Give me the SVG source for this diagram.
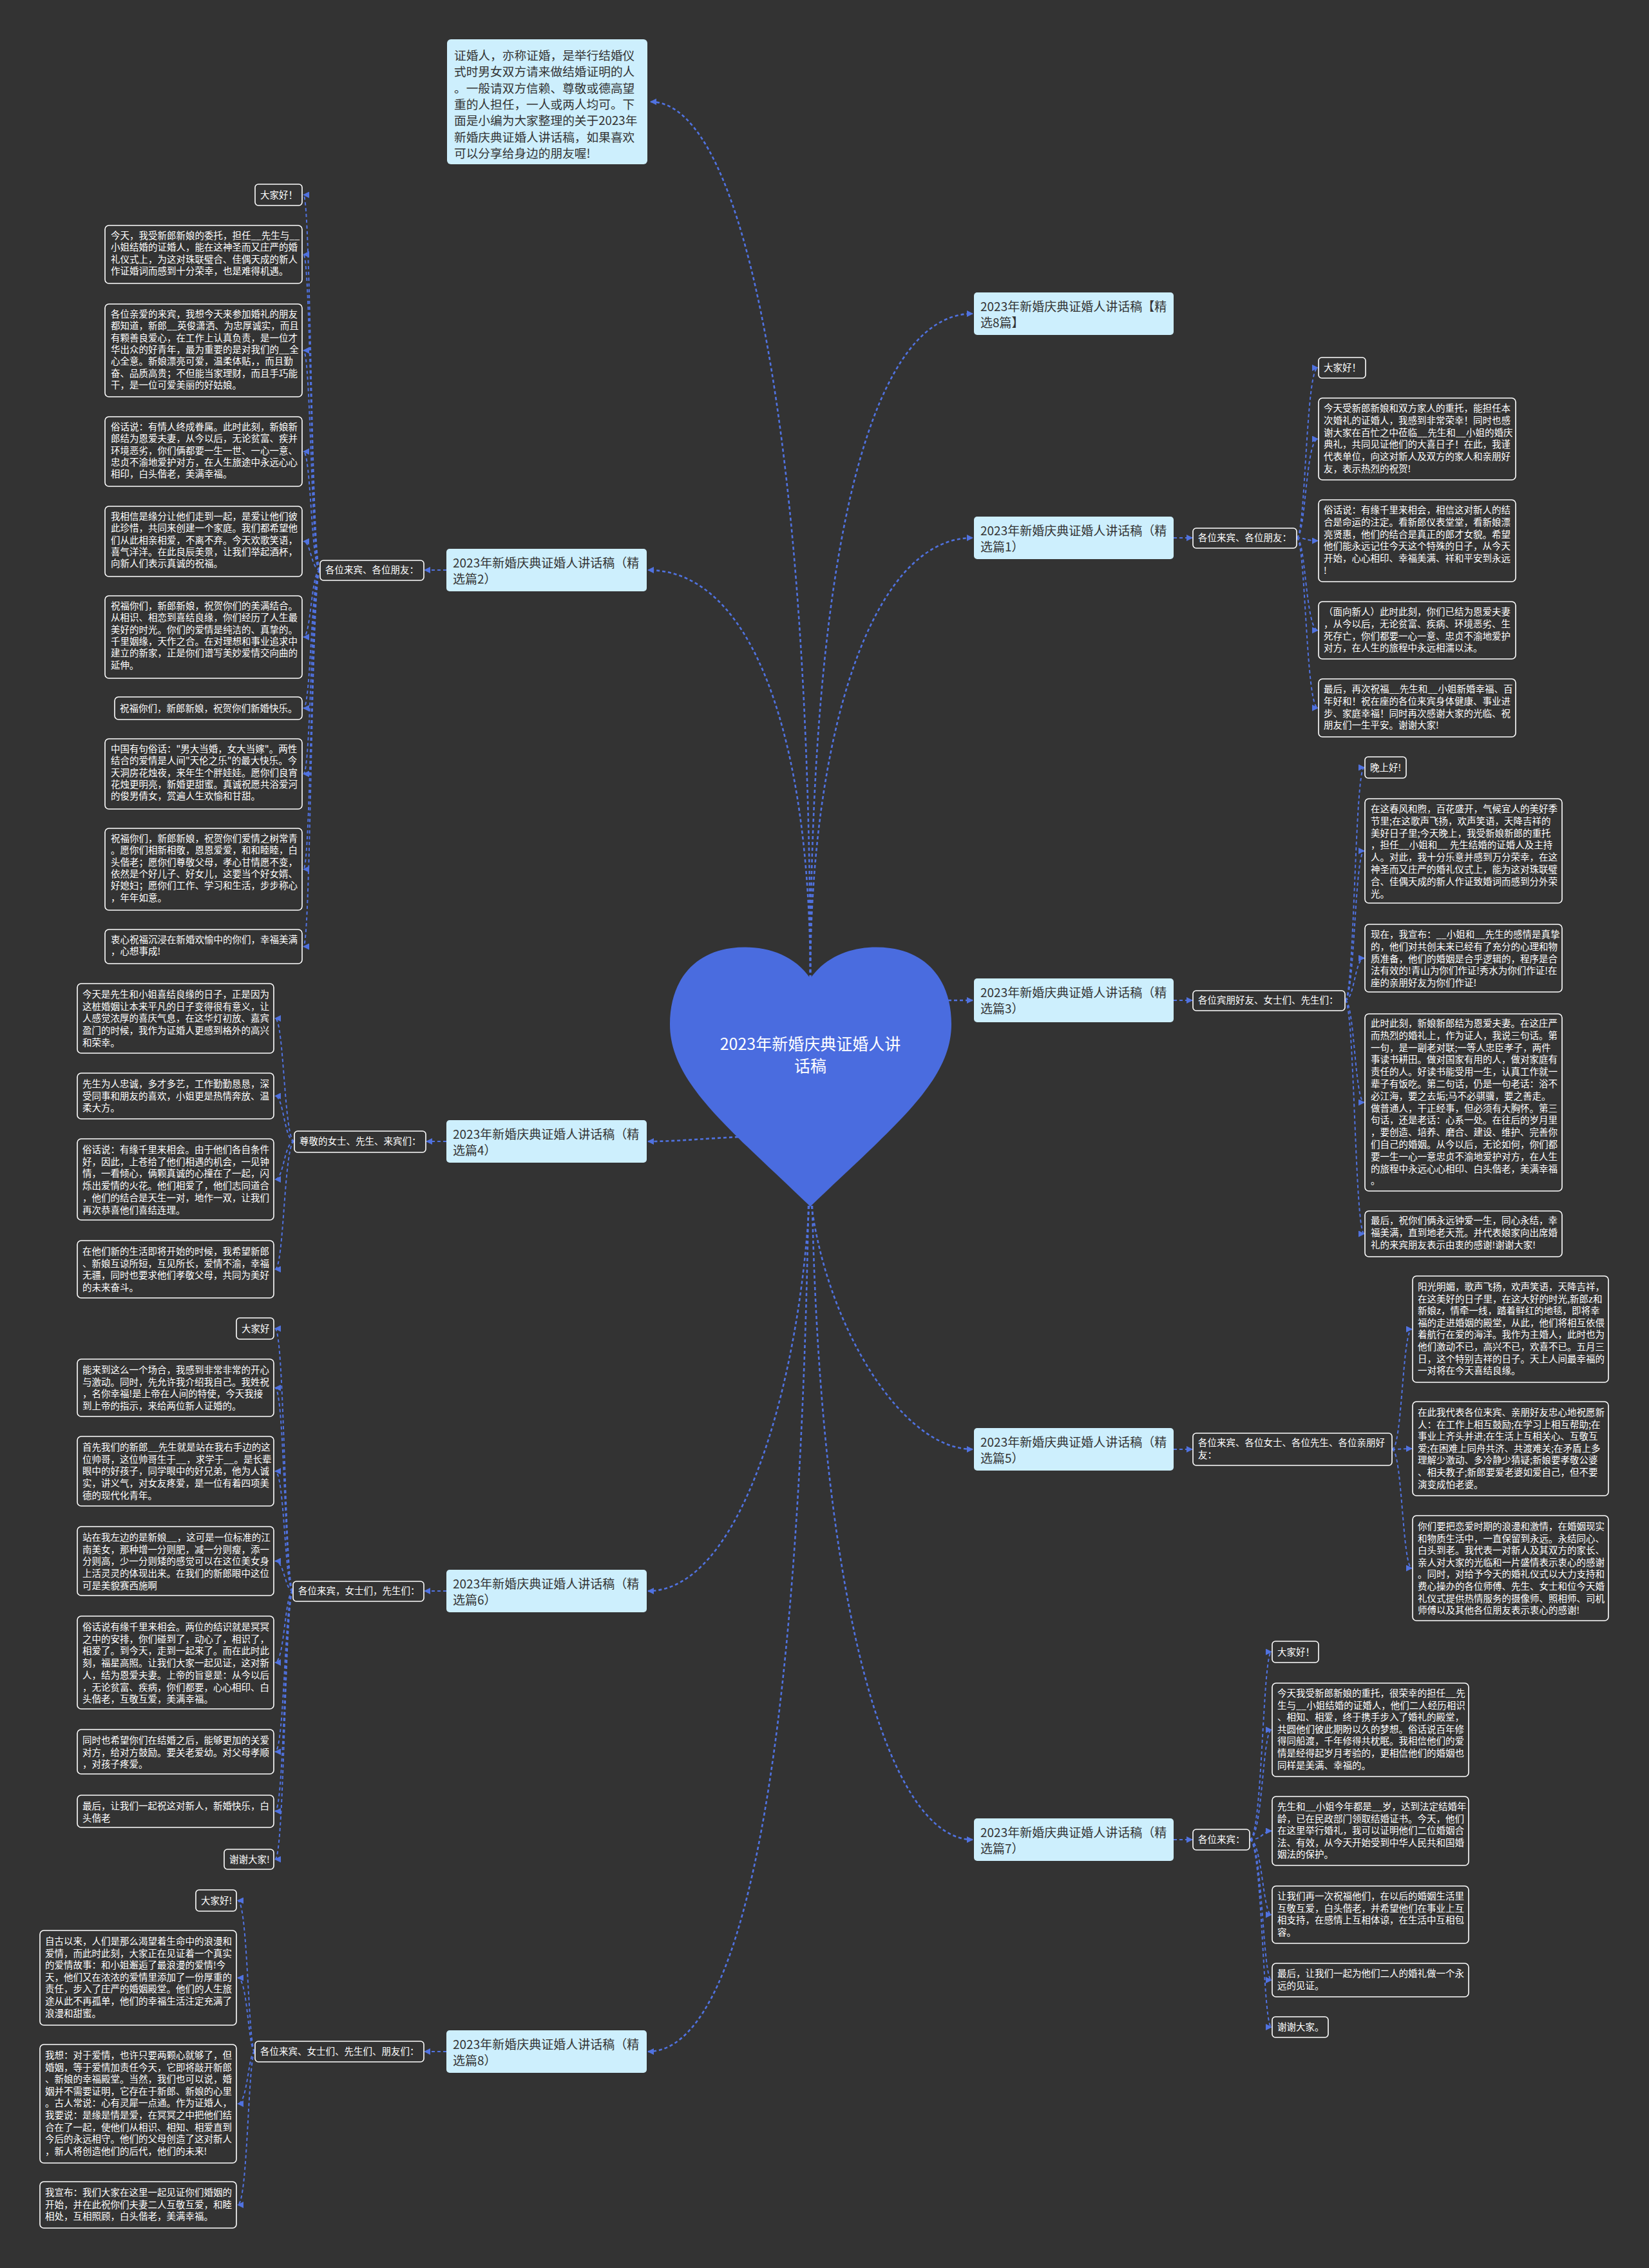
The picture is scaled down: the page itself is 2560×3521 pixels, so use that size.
<svg xmlns="http://www.w3.org/2000/svg" width="2560" height="3521" viewBox="0 0 2560 3521">
<defs>
<style>
.t{font-family:"Noto Sans CJK SC","Noto Sans",sans-serif;font-size:14.5px;fill:#ffffff}
.bt{font-family:"Noto Sans CJK SC","Noto Sans",sans-serif;font-size:19px;fill:#333333}
.it{font-family:"Noto Sans CJK SC","Noto Sans",sans-serif;font-size:18.7px;fill:#333333}
.rt{font-family:"Noto Sans CJK SC","Noto Sans",sans-serif;font-size:25px;fill:#ffffff}
.lf{fill:#333333;stroke:#ffffff;stroke-width:1.6}
.br{fill:#cdeffd}
.c{fill:none;stroke:#5072e0;stroke-width:2;stroke-dasharray:5 4}
.cm{fill:none;stroke:#5072e0;stroke-width:2.6;stroke-dasharray:5 4}
</style>
<marker id="a" viewBox="0 0 10 10" refX="9" refY="5" markerWidth="10" markerHeight="10" markerUnits="userSpaceOnUse" orient="auto"><path d="M0,0 L10,5 L0,10 z" fill="#5072e0"/></marker>
</defs>
<rect x="0" y="0" width="2560" height="3521" fill="#333333"/>

<g id="connectors">
<path class="cm" marker-end="url(#a)" d="M1258,1600 L1258,1519 C1258,700 1160,158 1010,158"/>
<path class="cm" marker-end="url(#a)" d="M1258,1600 L1258,1519 C1258,900 1340,487 1510,487"/>
<path class="cm" marker-end="url(#a)" d="M1258,1600 L1258,1519 C1258,1150 1350,835 1510,835"/>
<path class="cm" marker-end="url(#a)" d="M1258,1600 L1258,1519 C1258,1150 1170,885 1006,885"/>
<path class="cm" marker-end="url(#a)" d="M1400,1553 L1510,1553"/>
<path class="cm" marker-end="url(#a)" d="M1200,1763 C1100,1766 1060,1772 1006,1772"/>
<path class="cm" marker-end="url(#a)" d="M1258,1800 L1260,1873 C1285,2060 1400,2250 1510,2250"/>
<path class="cm" marker-end="url(#a)" d="M1258,1800 L1256,1873 C1240,2150 1150,2470 1006,2470"/>
<path class="cm" marker-end="url(#a)" d="M1258,1800 L1261,1873 C1275,2500 1380,2856 1510,2856"/>
<path class="cm" marker-end="url(#a)" d="M1258,1800 L1255,1873 C1240,2750 1150,3185 1006,3185"/>

<path class="c" marker-end="url(#a)" d="M1822,835 L1851,835"/>
<path class="c" marker-end="url(#a)" d="M693,885 L659,885"/>
<path class="c" marker-end="url(#a)" d="M1822,1553 L1851,1553"/>
<path class="c" marker-end="url(#a)" d="M693,1772 L662,1772"/>
<path class="c" marker-end="url(#a)" d="M1822,2250 L1851,2250"/>
<path class="c" marker-end="url(#a)" d="M693,2470 L659,2470"/>
<path class="c" marker-end="url(#a)" d="M1822,2856 L1851,2856"/>
<path class="c" marker-end="url(#a)" d="M693,3185 L659,3185"/>

<path class="c" marker-end="url(#a)" d="M497,885 C483,885 483,302.5 471,302.5"/>
<path class="c" marker-end="url(#a)" d="M497,885 C483,885 483,395 471,395"/>
<path class="c" marker-end="url(#a)" d="M497,885 C483,885 483,544 471,544"/>
<path class="c" marker-end="url(#a)" d="M497,885 C483,885 483,701 471,701"/>
<path class="c" marker-end="url(#a)" d="M497,885 C483,885 483,840.5 471,840.5"/>
<path class="c" marker-end="url(#a)" d="M497,885 C483,885 483,989 471,989"/>
<path class="c" marker-end="url(#a)" d="M497,885 C483,885 483,1099.5 471,1099.5"/>
<path class="c" marker-end="url(#a)" d="M497,885 C483,885 483,1201.5 471,1201.5"/>
<path class="c" marker-end="url(#a)" d="M497,885 C483,885 483,1349.5 471,1349.5"/>
<path class="c" marker-end="url(#a)" d="M497,885 C483,885 483,1469.5 471,1469.5"/>

<path class="c" marker-end="url(#a)" d="M2013,835 C2027,835 2027,571 2046,571"/>
<path class="c" marker-end="url(#a)" d="M2013,835 C2027,835 2027,681.5 2046,681.5"/>
<path class="c" marker-end="url(#a)" d="M2013,835 C2027,835 2027,839.5 2046,839.5"/>
<path class="c" marker-end="url(#a)" d="M2013,835 C2027,835 2027,978.5 2046,978.5"/>
<path class="c" marker-end="url(#a)" d="M2013,835 C2027,835 2027,1099 2046,1099"/>

<path class="c" marker-end="url(#a)" d="M2088,1553 C2103,1553 2103,1191.5 2118,1191.5"/>
<path class="c" marker-end="url(#a)" d="M2088,1553 C2103,1553 2103,1321 2118,1321"/>
<path class="c" marker-end="url(#a)" d="M2088,1553 C2103,1553 2103,1487.5 2118,1487.5"/>
<path class="c" marker-end="url(#a)" d="M2088,1553 C2103,1553 2103,1711.5 2118,1711.5"/>
<path class="c" marker-end="url(#a)" d="M2088,1553 C2103,1553 2103,1915.5 2118,1915.5"/>

<path class="c" marker-end="url(#a)" d="M457,1772 C441,1772 441,1581 427,1581"/>
<path class="c" marker-end="url(#a)" d="M457,1772 C441,1772 441,1701.5 427,1701.5"/>
<path class="c" marker-end="url(#a)" d="M457,1772 C441,1772 441,1831 427,1831"/>
<path class="c" marker-end="url(#a)" d="M457,1772 C441,1772 441,1970.5 427,1970.5"/>

<path class="c" marker-end="url(#a)" d="M2161,2250 C2177,2250 2177,2063.5 2192,2063.5"/>
<path class="c" marker-end="url(#a)" d="M2161,2250 C2177,2250 2177,2249 2192,2249"/>
<path class="c" marker-end="url(#a)" d="M2161,2250 C2177,2250 2177,2434.5 2192,2434.5"/>

<path class="c" marker-end="url(#a)" d="M455,2470 C442,2470 442,2062.5 427,2062.5"/>
<path class="c" marker-end="url(#a)" d="M455,2470 C442,2470 442,2154.5 427,2154.5"/>
<path class="c" marker-end="url(#a)" d="M455,2470 C442,2470 442,2284 427,2284"/>
<path class="c" marker-end="url(#a)" d="M455,2470 C442,2470 442,2423.5 427,2423.5"/>
<path class="c" marker-end="url(#a)" d="M455,2470 C442,2470 442,2581 427,2581"/>
<path class="c" marker-end="url(#a)" d="M455,2470 C442,2470 442,2719.5 427,2719.5"/>
<path class="c" marker-end="url(#a)" d="M455,2470 C442,2470 442,2812 427,2812"/>
<path class="c" marker-end="url(#a)" d="M455,2470 C442,2470 442,2886.5 427,2886.5"/>

<path class="c" marker-end="url(#a)" d="M1940,2856 C1960,2856 1960,2564.5 1974,2564.5"/>
<path class="c" marker-end="url(#a)" d="M1940,2856 C1960,2856 1960,2685.5 1974,2685.5"/>
<path class="c" marker-end="url(#a)" d="M1940,2856 C1960,2856 1960,2842.5 1974,2842.5"/>
<path class="c" marker-end="url(#a)" d="M1940,2856 C1960,2856 1960,2972.5 1974,2972.5"/>
<path class="c" marker-end="url(#a)" d="M1940,2856 C1960,2856 1960,3074 1974,3074"/>
<path class="c" marker-end="url(#a)" d="M1940,2856 C1960,2856 1960,3147 1974,3147"/>

<path class="c" marker-end="url(#a)" d="M396,3185 C385,3185 385,2950.5 369,2950.5"/>
<path class="c" marker-end="url(#a)" d="M396,3185 C385,3185 385,3070.5 369,3070.5"/>
<path class="c" marker-end="url(#a)" d="M396,3185 C385,3185 385,3266 369,3266"/>
<path class="c" marker-end="url(#a)" d="M396,3185 C385,3185 385,3423 369,3423"/>
</g>

<g id="root">
<path d="M1258,1519 C1230,1478 1180,1466 1135,1472 C1075,1480 1040,1525 1040,1590 C1040,1680 1130,1750 1258,1873 C1386,1750 1477,1680 1477,1590 C1477,1525 1442,1480 1382,1472 C1337,1466 1287,1478 1258,1519 Z" fill="#4a6cdf"/>
<text class="rt" text-anchor="middle"><tspan x="1258" y="1630">2023年新婚庆典证婚人讲</tspan><tspan x="1258" y="1664">话稿</tspan></text>
</g>

<g id="intro">
<rect class="br" x="694" y="61" width="311" height="194" rx="6"/>
<text class="it"><tspan x="705" y="93">证婚人，亦称证婚，是举行结婚仪</tspan><tspan x="705" dy="25.3">式时男女双方请来做结婚证明的人</tspan><tspan x="705" dy="25.3">。一般请双方信赖、尊敬或德高望</tspan><tspan x="705" dy="25.3">重的人担任，一人或两人均可。下</tspan><tspan x="705" dy="25.3">面是小编为大家整理的关于2023年</tspan><tspan x="705" dy="25.3">新婚庆典证婚人讲话稿，如果喜欢</tspan><tspan x="705" dy="25.3">可以分享给身边的朋友喔!</tspan></text>
</g>

<g id="b8top">
<rect class="br" x="1512" y="454" width="310" height="66" rx="5"/>
<text class="bt"><tspan x="1522" y="483">2023年新婚庆典证婚人讲话稿【精</tspan><tspan x="1522" dy="25">选8篇】</tspan></text>
</g>

<g id="b1">
<rect class="br" x="1512" y="802" width="310" height="66" rx="5"/>
<text class="bt"><tspan x="1522" y="831">2023年新婚庆典证婚人讲话稿（精</tspan><tspan x="1522" dy="25">选篇1）</tspan></text>
</g>
<g id="b1-label"><rect class="lf" x="1852" y="820" width="161" height="31" rx="5"/><text class="t" x="1860" y="840">各位来宾、各位朋友：</text></g>
<g id="b1-l1"><rect class="lf" x="2047" y="555" width="73" height="32" rx="5"/><text class="t" x="2055" y="576">大家好！</text></g>
<g id="b1-l2"><rect class="lf" x="2047" y="618" width="306" height="127" rx="6"/><text class="t"><tspan x="2055" y="639">今天受新郎新娘和双方家人的重托，能担任本</tspan><tspan x="2055" dy="18.75">次婚礼的证婚人，我感到非常荣幸！同时也感</tspan><tspan x="2055" dy="18.75">谢大家在百忙之中莅临__先生和__小姐的婚庆</tspan><tspan x="2055" dy="18.75">典礼，共同见证他们的大喜日子！在此，我谨</tspan><tspan x="2055" dy="18.75">代表单位，向这对新人及双方的家人和亲朋好</tspan><tspan x="2055" dy="18.75">友，表示热烈的祝贺!</tspan></text></g>
<g id="b1-l3"><rect class="lf" x="2047" y="776" width="306" height="127" rx="6"/><text class="t"><tspan x="2055" y="797">俗话说：有缘千里来相会，相信这对新人的结</tspan><tspan x="2055" dy="18.75">合是命运的注定。看新郎仪表堂堂，看新娘漂</tspan><tspan x="2055" dy="18.75">亮贤惠，他们的结合是真正的郎才女貌。希望</tspan><tspan x="2055" dy="18.75">他们能永远记住今天这个特殊的日子，从今天</tspan><tspan x="2055" dy="18.75">开始，心心相印、幸福美满、祥和平安到永远</tspan><tspan x="2055" dy="18.75">!</tspan></text></g>
<g id="b1-l4"><rect class="lf" x="2047" y="934" width="306" height="89" rx="6"/><text class="t"><tspan x="2055" y="955">（面向新人）此时此刻，你们已结为恩爱夫妻</tspan><tspan x="2055" dy="18.75">，从今以后，无论贫富、疾病、环境恶劣、生</tspan><tspan x="2055" dy="18.75">死存亡，你们都要一心一意、忠贞不渝地爱护</tspan><tspan x="2055" dy="18.75">对方，在人生的旅程中永远相濡以沫。</tspan></text></g>
<g id="b1-l5"><rect class="lf" x="2047" y="1054" width="306" height="90" rx="6"/><text class="t"><tspan x="2055" y="1075">最后，再次祝福__先生和__小姐新婚幸福、百</tspan><tspan x="2055" dy="18.75">年好和！祝在座的各位来宾身体健康、事业进</tspan><tspan x="2055" dy="18.75">步、家庭幸福！同时再次感谢大家的光临、祝</tspan><tspan x="2055" dy="18.75">朋友们一生平安。谢谢大家!</tspan></text></g>

<g id="b2">
<rect class="br" x="693" y="852" width="311" height="66" rx="5"/>
<text class="bt"><tspan x="703" y="881">2023年新婚庆典证婚人讲话稿（精</tspan><tspan x="703" dy="25">选篇2）</tspan></text>
</g>
<g id="b2-label"><rect class="lf" x="497" y="870" width="161" height="31" rx="5"/><text class="t" x="505" y="890">各位来宾、各位朋友：</text></g>
<g id="b2-l1"><rect class="lf" x="396" y="286" width="73" height="33" rx="5"/><text class="t" x="404" y="308">大家好！</text></g>
<g id="b2-l2"><rect class="lf" x="163" y="350" width="306" height="90" rx="6"/><text class="t"><tspan x="172" y="371">今天，我受新郎新娘的委托，担任__先生与__</tspan><tspan x="172" dy="18.3">小姐结婚的证婚人，能在这神圣而又庄严的婚</tspan><tspan x="172" dy="18.3">礼仪式上，为这对珠联璧合、佳偶天成的新人</tspan><tspan x="172" dy="18.3">作证婚词而感到十分荣幸，也是难得机遇。</tspan></text></g>
<g id="b2-l3"><rect class="lf" x="163" y="472" width="306" height="144" rx="6"/><text class="t"><tspan x="172" y="493">各位亲爱的来宾，我想今天来参加婚礼的朋友</tspan><tspan x="172" dy="18.3">都知道，新郎__英俊潇洒、为忠厚诚实，而且</tspan><tspan x="172" dy="18.3">有颗善良爱心，在工作上认真负责，是一位才</tspan><tspan x="172" dy="18.3">华出众的好青年，最为重要的是对我们的__全</tspan><tspan x="172" dy="18.3">心全意。新娘漂亮可爱，温柔体贴，，而且勤</tspan><tspan x="172" dy="18.3">奋、品质高贵；不但能当家理财，而且手巧能</tspan><tspan x="172" dy="18.3">干，是一位可爱美丽的好姑娘。</tspan></text></g>
<g id="b2-l4"><rect class="lf" x="163" y="647" width="306" height="108" rx="6"/><text class="t"><tspan x="172" y="668">俗话说：有情人终成眷属。此时此刻，新娘新</tspan><tspan x="172" dy="18.3">郎结为恩爱夫妻，从今以后，无论贫富、疾并</tspan><tspan x="172" dy="18.3">环境恶劣，你们俩都要一生一世、一心一意、</tspan><tspan x="172" dy="18.3">忠贞不渝地爱护对方，在人生旅途中永远心心</tspan><tspan x="172" dy="18.3">相印，白头偕老，美满幸福。</tspan></text></g>
<g id="b2-l5"><rect class="lf" x="163" y="786" width="306" height="109" rx="6"/><text class="t"><tspan x="172" y="807">我相信是缘分让他们走到一起，是爱让他们彼</tspan><tspan x="172" dy="18.3">此珍惜，共同来创建一个家庭。我们都希望他</tspan><tspan x="172" dy="18.3">们从此相亲相爱，不离不弃。今天欢歌笑语，</tspan><tspan x="172" dy="18.3">喜气洋洋。在此良辰美景，让我们举起酒杯，</tspan><tspan x="172" dy="18.3">向新人们表示真诚的祝福。</tspan></text></g>
<g id="b2-l6"><rect class="lf" x="163" y="925" width="306" height="128" rx="6"/><text class="t"><tspan x="172" y="946">祝福你们，新郎新娘，祝贺你们的美满结合。</tspan><tspan x="172" dy="18.3">从相识、相恋到喜结良缘，你们经历了人生最</tspan><tspan x="172" dy="18.3">美好的时光。你们的爱情是纯洁的、真挚的。</tspan><tspan x="172" dy="18.3">千里姻缘，天作之合。在对理想和事业追求中</tspan><tspan x="172" dy="18.3">建立的新家，正是你们谱写美妙爱情交向曲的</tspan><tspan x="172" dy="18.3">延伸。</tspan></text></g>
<g id="b2-l7"><rect class="lf" x="178" y="1082" width="291" height="35" rx="6"/><text class="t" x="186" y="1105">祝福你们，新郎新娘，祝贺你们新婚快乐。</text></g>
<g id="b2-l8"><rect class="lf" x="163" y="1147" width="306" height="109" rx="6"/><text class="t"><tspan x="172" y="1168">中国有句俗话："男大当婚，女大当嫁"。两性</tspan><tspan x="172" dy="18.3">结合的爱情是人间"天伦之乐"的最大快乐。今</tspan><tspan x="172" dy="18.3">天洞房花烛夜，来年生个胖娃娃。愿你们良宵</tspan><tspan x="172" dy="18.3">花烛更明亮，新婚更甜蜜。真诚祝愿共浴爱河</tspan><tspan x="172" dy="18.3">的俊男倩女，赏遍人生欢愉和甘甜。</tspan></text></g>
<g id="b2-l9"><rect class="lf" x="163" y="1286" width="306" height="127" rx="6"/><text class="t"><tspan x="172" y="1307">祝福你们，新郎新娘，祝贺你们爱情之树常青</tspan><tspan x="172" dy="18.3">。愿你们相新相敬，恩恩爱爱，和和睦睦，白</tspan><tspan x="172" dy="18.3">头偕老；愿你们尊敬父母，孝心甘情愿不变，</tspan><tspan x="172" dy="18.3">依然是个好儿子、好女儿，这要当个好女婿、</tspan><tspan x="172" dy="18.3">好媳妇；愿你们工作、学习和生活，步步称心</tspan><tspan x="172" dy="18.3">，年年如意。</tspan></text></g>
<g id="b2-l10"><rect class="lf" x="163" y="1443" width="306" height="53" rx="6"/><text class="t"><tspan x="172" y="1464">衷心祝福沉浸在新婚欢愉中的你们，幸福美满</tspan><tspan x="172" dy="18.3">，心想事成!</tspan></text></g>

<g id="b3">
<rect class="br" x="1512" y="1519" width="310" height="68" rx="5"/>
<text class="bt"><tspan x="1522" y="1548">2023年新婚庆典证婚人讲话稿（精</tspan><tspan x="1522" dy="25">选篇3）</tspan></text>
</g>
<g id="b3-label"><rect class="lf" x="1852" y="1538" width="236" height="31" rx="5"/><text class="t" x="1860" y="1558">各位宾朋好友、女士们、先生们：</text></g>
<g id="b3-l1"><rect class="lf" x="2119" y="1175" width="64" height="33" rx="5"/><text class="t" x="2127" y="1197">晚上好!</text></g>
<g id="b3-l2"><rect class="lf" x="2119" y="1240" width="306" height="162" rx="6"/><text class="t"><tspan x="2128" y="1261">在这春风和煦，百花盛开，气候宜人的美好季</tspan><tspan x="2128" dy="18.8">节里;在这歌声飞扬，欢声笑语，天降吉祥的</tspan><tspan x="2128" dy="18.8">美好日子里;今天晚上，我受新娘新郎的重托</tspan><tspan x="2128" dy="18.8">，担任__小姐和__ 先生结婚的证婚人及主持</tspan><tspan x="2128" dy="18.8">人。对此，我十分乐意并感到万分荣幸，在这</tspan><tspan x="2128" dy="18.8">神圣而又庄严的婚礼仪式上，能为这对珠联璧</tspan><tspan x="2128" dy="18.8">合、佳偶天成的新人作证致婚词而感到分外荣</tspan><tspan x="2128" dy="18.8">光。</tspan></text></g>
<g id="b3-l3"><rect class="lf" x="2119" y="1435" width="306" height="105" rx="6"/><text class="t"><tspan x="2128" y="1456">现在，我宣布：__小姐和__先生的感情是真挚</tspan><tspan x="2128" dy="18.8">的，他们对共创未来已经有了充分的心理和物</tspan><tspan x="2128" dy="18.8">质准备，他们的婚姻是合乎逻辑的，程序是合</tspan><tspan x="2128" dy="18.8">法有效的!青山为你们作证!秀水为你们作证!在</tspan><tspan x="2128" dy="18.8">座的亲朋好友为你们作证!</tspan></text></g>
<g id="b3-l4"><rect class="lf" x="2119" y="1574" width="306" height="275" rx="6"/><text class="t"><tspan x="2128" y="1594">此时此刻，新娘新郎结为恩爱夫妻。在这庄严</tspan><tspan x="2128" dy="18.8">而热烈的婚礼上，作为证人，我说三句话。第</tspan><tspan x="2128" dy="18.8">一句，是一副老对联;一等人忠臣孝子，两件</tspan><tspan x="2128" dy="18.8">事读书耕田。做对国家有用的人，做对家庭有</tspan><tspan x="2128" dy="18.8">责任的人。好读书能受用一生，认真工作就一</tspan><tspan x="2128" dy="18.8">辈子有饭吃。第二句话，仍是一句老话：浴不</tspan><tspan x="2128" dy="18.8">必江海，要之去垢;马不必骐骥，要之善走。</tspan><tspan x="2128" dy="18.8">做普通人，干正经事，但必须有大胸怀。第三</tspan><tspan x="2128" dy="18.8">句话，还是老话：心系一处。在往后的岁月里</tspan><tspan x="2128" dy="18.8">，要创造、培养、磨合、建设、维护、完善你</tspan><tspan x="2128" dy="18.8">们自己的婚姻。从今以后，无论如何，你们都</tspan><tspan x="2128" dy="18.8">要一生一心一意忠贞不渝地爱护对方，在人生</tspan><tspan x="2128" dy="18.8">的旅程中永远心心相印、白头偕老，美满幸福</tspan><tspan x="2128" dy="18.8">。</tspan></text></g>
<g id="b3-l5"><rect class="lf" x="2119" y="1880" width="306" height="71" rx="6"/><text class="t"><tspan x="2128" y="1900">最后，祝你们俩永远钟爱一生，同心永结，幸</tspan><tspan x="2128" dy="18.8">福美满，直到地老天荒。并代表娘家向出席婚</tspan><tspan x="2128" dy="18.8">礼的来宾朋友表示由衷的感谢!谢谢大家!</tspan></text></g>

<g id="b4">
<rect class="br" x="693" y="1739" width="311" height="66" rx="5"/>
<text class="bt"><tspan x="703" y="1768">2023年新婚庆典证婚人讲话稿（精</tspan><tspan x="703" dy="25">选篇4）</tspan></text>
</g>
<g id="b4-label"><rect class="lf" x="457" y="1756" width="204" height="33" rx="5"/><text class="t" x="465" y="1777">尊敬的女士、先生、来宾们：</text></g>
<g id="b4-l1"><rect class="lf" x="120" y="1527" width="305" height="108" rx="6"/><text class="t"><tspan x="128" y="1549">今天是先生和小姐喜结良缘的日子，正是因为</tspan><tspan x="128" dy="18.7">这桩婚姻让本来平凡的日子变得很有意义，让</tspan><tspan x="128" dy="18.7">人感觉浓厚的喜庆气息，在这华灯初放、嘉宾</tspan><tspan x="128" dy="18.7">盈门的时候，我作为证婚人更感到格外的高兴</tspan><tspan x="128" dy="18.7">和荣幸。</tspan></text></g>
<g id="b4-l2"><rect class="lf" x="120" y="1666" width="305" height="71" rx="6"/><text class="t"><tspan x="128" y="1688">先生为人忠诚，多才多艺，工作勤勤恳恳，深</tspan><tspan x="128" dy="18.7">受同事和朋友的喜欢，小姐更是热情奔放、温</tspan><tspan x="128" dy="18.7">柔大方。</tspan></text></g>
<g id="b4-l3"><rect class="lf" x="120" y="1768" width="305" height="126" rx="6"/><text class="t"><tspan x="128" y="1790">俗话说：有缘千里来相会。由于他们各自条件</tspan><tspan x="128" dy="18.7">好，因此，上苍给了他们相遇的机会，一见钟</tspan><tspan x="128" dy="18.7">情，一看倾心，俩颗真诚的心撞在了一起，闪</tspan><tspan x="128" dy="18.7">烁出爱情的火花。他们相爱了，他们志同道合</tspan><tspan x="128" dy="18.7">，他们的结合是天生一对，地作一双，让我们</tspan><tspan x="128" dy="18.7">再次恭喜他们喜结连理。</tspan></text></g>
<g id="b4-l4"><rect class="lf" x="120" y="1926" width="305" height="89" rx="6"/><text class="t"><tspan x="128" y="1948">在他们新的生活即将开始的时候，我希望新郎</tspan><tspan x="128" dy="18.7">、新娘互谅所短，互见所长，爱情不渝，幸福</tspan><tspan x="128" dy="18.7">无疆，同时也要求他们孝敬父母，共同为美好</tspan><tspan x="128" dy="18.7">的未来奋斗。</tspan></text></g>

<g id="b5">
<rect class="br" x="1512" y="2217" width="310" height="66" rx="5"/>
<text class="bt"><tspan x="1522" y="2246">2023年新婚庆典证婚人讲话稿（精</tspan><tspan x="1522" dy="25">选篇5）</tspan></text>
</g>
<g id="b5-label"><rect class="lf" x="1852" y="2225" width="309" height="50" rx="5"/><text class="t"><tspan x="1860" y="2245">各位来宾、各位女士、各位先生、各位亲朋好</tspan><tspan x="1860" dy="18.5">友：</tspan></text></g>
<g id="b5-l1"><rect class="lf" x="2193" y="1981" width="304" height="165" rx="6"/><text class="t"><tspan x="2201" y="2003">阳光明媚，歌声飞扬，欢声笑语，天降吉祥，</tspan><tspan x="2201" dy="18.6">在这美好的日子里，在这大好的时光,新郎z和</tspan><tspan x="2201" dy="18.6">新娘z，情牵一线，踏着鲜红的地毯，即将幸</tspan><tspan x="2201" dy="18.6">福的走进婚姻的殿堂，从此，他们将相互依偎</tspan><tspan x="2201" dy="18.6">着航行在爱的海洋。我作为主婚人，此时也为</tspan><tspan x="2201" dy="18.6">他们激动不已，高兴不已，欢喜不已。五月三</tspan><tspan x="2201" dy="18.6">日，这个特别吉祥的日子。天上人间最幸福的</tspan><tspan x="2201" dy="18.6">一对将在今天喜结良缘。</tspan></text></g>
<g id="b5-l2"><rect class="lf" x="2193" y="2176" width="304" height="146" rx="6"/><text class="t"><tspan x="2201" y="2198">在此我代表各位来宾、亲朋好友忠心地祝愿新</tspan><tspan x="2201" dy="18.6">人：在工作上相互鼓励;在学习上相互帮助;在</tspan><tspan x="2201" dy="18.6">事业上齐头并进;在生活上互相关心、互敬互</tspan><tspan x="2201" dy="18.6">爱;在困难上同舟共济、共渡难关;在矛盾上多</tspan><tspan x="2201" dy="18.6">理解少激动、多冷静少猜疑;新娘要孝敬公婆</tspan><tspan x="2201" dy="18.6">、相夫教子;新郎要爱老婆如爱自己，但不要</tspan><tspan x="2201" dy="18.6">演变成怕老婆。</tspan></text></g>
<g id="b5-l3"><rect class="lf" x="2193" y="2353" width="304" height="163" rx="6"/><text class="t"><tspan x="2201" y="2375">你们要把恋爱时期的浪漫和激情，在婚姻现实</tspan><tspan x="2201" dy="18.6">和物质生活中，一直保留到永远。永结同心、</tspan><tspan x="2201" dy="18.6">白头到老。我代表一对新人及其双方的家长、</tspan><tspan x="2201" dy="18.6">亲人对大家的光临和一片盛情表示衷心的感谢</tspan><tspan x="2201" dy="18.6">。同时，对给予今天的婚礼仪式以大力支持和</tspan><tspan x="2201" dy="18.6">费心操办的各位师傅、先生、女士和位今天婚</tspan><tspan x="2201" dy="18.6">礼仪式提供热情服务的摄像师、照相师、司机</tspan><tspan x="2201" dy="18.6">师傅以及其他各位朋友表示衷心的感谢!</tspan></text></g>

<g id="b6">
<rect class="br" x="693" y="2437" width="311" height="66" rx="5"/>
<text class="bt"><tspan x="703" y="2466">2023年新婚庆典证婚人讲话稿（精</tspan><tspan x="703" dy="25">选篇6）</tspan></text>
</g>
<g id="b6-label"><rect class="lf" x="455" y="2455" width="203" height="31" rx="5"/><text class="t" x="463" y="2475">各位来宾，女士们，先生们：</text></g>
<g id="b6-l1"><rect class="lf" x="367" y="2046" width="58" height="33" rx="5"/><text class="t" x="375" y="2068">大家好</text></g>
<g id="b6-l2"><rect class="lf" x="120" y="2110" width="305" height="89" rx="6"/><text class="t"><tspan x="128" y="2132">能来到这么一个场合，我感到非常非常的开心</tspan><tspan x="128" dy="18.7">与激动。同时，先允许我介绍我自己。我姓祝</tspan><tspan x="128" dy="18.7">，名你幸福!是上帝在人间的特使，今天我接</tspan><tspan x="128" dy="18.7">到上帝的指示，来给两位新人证婚的。</tspan></text></g>
<g id="b6-l3"><rect class="lf" x="120" y="2230" width="305" height="108" rx="6"/><text class="t"><tspan x="128" y="2252">首先我们的新郎__先生就是站在我右手边的这</tspan><tspan x="128" dy="18.7">位帅哥，这位帅哥生于__，求学于__。是长辈</tspan><tspan x="128" dy="18.7">眼中的好孩子，同学眼中的好兄弟，他为人诚</tspan><tspan x="128" dy="18.7">实，讲义气，对女友疼爱，是一位有着四项美</tspan><tspan x="128" dy="18.7">德的现代化青年。</tspan></text></g>
<g id="b6-l4"><rect class="lf" x="120" y="2370" width="305" height="107" rx="6"/><text class="t"><tspan x="128" y="2392">站在我左边的是新娘__，这可是一位标准的江</tspan><tspan x="128" dy="18.7">南美女，那种增一分则肥，减一分则瘦，添一</tspan><tspan x="128" dy="18.7">分则高，少一分则矮的感觉可以在这位美女身</tspan><tspan x="128" dy="18.7">上活灵灵的体现出来。在我们的新郎眼中这位</tspan><tspan x="128" dy="18.7">可是美貌赛西施啊</tspan></text></g>
<g id="b6-l5"><rect class="lf" x="120" y="2509" width="305" height="144" rx="6"/><text class="t"><tspan x="128" y="2531">俗话说有缘千里来相会。两位的结识就是冥冥</tspan><tspan x="128" dy="18.7">之中的安排，你们碰到了，动心了，相识了，</tspan><tspan x="128" dy="18.7">相爱了。到今天，走到一起来了。而在此时此</tspan><tspan x="128" dy="18.7">刻，福星高照。让我们大家一起见证，这对新</tspan><tspan x="128" dy="18.7">人，结为恩爱夫妻。上帝的旨意是：从今以后</tspan><tspan x="128" dy="18.7">，无论贫富、疾病，你们都要，心心相印、白</tspan><tspan x="128" dy="18.7">头偕老，互敬互爱，美满幸福。</tspan></text></g>
<g id="b6-l6"><rect class="lf" x="120" y="2685" width="305" height="69" rx="6"/><text class="t"><tspan x="128" y="2707">同时也希望你们在结婚之后，能够更加的关爱</tspan><tspan x="128" dy="18.7">对方，给对方鼓励。要关老爱幼。对父母孝顺</tspan><tspan x="128" dy="18.7">，对孩子疼爱。</tspan></text></g>
<g id="b6-l7"><rect class="lf" x="120" y="2787" width="305" height="50" rx="6"/><text class="t"><tspan x="128" y="2809">最后，让我们一起祝这对新人，新婚快乐，白</tspan><tspan x="128" dy="18.7">头偕老</tspan></text></g>
<g id="b6-l8"><rect class="lf" x="348" y="2871" width="77" height="31" rx="5"/><text class="t" x="356" y="2892">谢谢大家!</text></g>

<g id="b7">
<rect class="br" x="1512" y="2823" width="310" height="66" rx="5"/>
<text class="bt"><tspan x="1522" y="2852">2023年新婚庆典证婚人讲话稿（精</tspan><tspan x="1522" dy="25">选篇7）</tspan></text>
</g>
<g id="b7-label"><rect class="lf" x="1852" y="2840" width="88" height="32" rx="5"/><text class="t" x="1860" y="2861">各位来宾：</text></g>
<g id="b7-l1"><rect class="lf" x="1975" y="2548" width="72" height="33" rx="5"/><text class="t" x="1983" y="2570">大家好！</text></g>
<g id="b7-l2"><rect class="lf" x="1975" y="2613" width="305" height="145" rx="6"/><text class="t"><tspan x="1983" y="2634">今天我受新郎新娘的重托，很荣幸的担任__先</tspan><tspan x="1983" dy="18.6">生与__小姐结婚的证婚人，他们二人经历相识</tspan><tspan x="1983" dy="18.6">、相知、相爱，终于携手步入了婚礼的殿堂，</tspan><tspan x="1983" dy="18.6">共圆他们彼此期盼以久的梦想。俗话说百年修</tspan><tspan x="1983" dy="18.6">得同船渡，千年修得共枕眠。我相信他们的爱</tspan><tspan x="1983" dy="18.6">情是经得起岁月考验的，更相信他们的婚姻也</tspan><tspan x="1983" dy="18.6">同样是美满、幸福的。</tspan></text></g>
<g id="b7-l3"><rect class="lf" x="1975" y="2789" width="305" height="107" rx="6"/><text class="t"><tspan x="1983" y="2810">先生和__小姐今年都是__岁，达到法定结婚年</tspan><tspan x="1983" dy="18.6">龄，已在民政部门领取结婚证书。今天，他们</tspan><tspan x="1983" dy="18.6">在这里举行婚礼，我可以证明他们二位婚姻合</tspan><tspan x="1983" dy="18.6">法、有效，从今天开始受到中华人民共和国婚</tspan><tspan x="1983" dy="18.6">姻法的保护。</tspan></text></g>
<g id="b7-l4"><rect class="lf" x="1975" y="2928" width="305" height="89" rx="6"/><text class="t"><tspan x="1983" y="2949">让我们再一次祝福他们，在以后的婚姻生活里</tspan><tspan x="1983" dy="18.6">互敬互爱，白头偕老，并希望他们在事业上互</tspan><tspan x="1983" dy="18.6">相支持，在感情上互相体谅，在生活中互相包</tspan><tspan x="1983" dy="18.6">容。</tspan></text></g>
<g id="b7-l5"><rect class="lf" x="1975" y="3048" width="305" height="52" rx="6"/><text class="t"><tspan x="1983" y="3069">最后，让我们一起为他们二人的婚礼做一个永</tspan><tspan x="1983" dy="18.6">远的见证。</tspan></text></g>
<g id="b7-l6"><rect class="lf" x="1975" y="3131" width="87" height="32" rx="5"/><text class="t" x="1983" y="3152">谢谢大家。</text></g>

<g id="b8">
<rect class="br" x="693" y="3152" width="311" height="66" rx="5"/>
<text class="bt"><tspan x="703" y="3181">2023年新婚庆典证婚人讲话稿（精</tspan><tspan x="703" dy="25">选篇8）</tspan></text>
</g>
<g id="b8-label"><rect class="lf" x="396" y="3169" width="262" height="32" rx="5"/><text class="t" x="404" y="3190">各位来宾、女士们、先生们、朋友们：</text></g>
<g id="b8-l1"><rect class="lf" x="304" y="2934" width="63" height="33" rx="5"/><text class="t" x="312" y="2956">大家好!</text></g>
<g id="b8-l2"><rect class="lf" x="62" y="2997" width="305" height="147" rx="6"/><text class="t"><tspan x="70" y="3019">自古以来，人们是那么渴望着生命中的浪漫和</tspan><tspan x="70" dy="18.6">爱情，而此时此刻，大家正在见证着一个真实</tspan><tspan x="70" dy="18.6">的爱情故事：和小姐邂逅了最浪漫的爱情!今</tspan><tspan x="70" dy="18.6">天，他们又在浓浓的爱情里添加了一份厚重的</tspan><tspan x="70" dy="18.6">责任，步入了庄严的婚姻殿堂。他们的人生旅</tspan><tspan x="70" dy="18.6">途从此不再孤单，他们的幸福生活注定充满了</tspan><tspan x="70" dy="18.6">浪漫和甜蜜。</tspan></text></g>
<g id="b8-l3"><rect class="lf" x="62" y="3174" width="305" height="184" rx="6"/><text class="t"><tspan x="70" y="3196">我想：对于爱情，也许只要两颗心就够了，但</tspan><tspan x="70" dy="18.6">婚姻，等于爱情加责任今天，它即将敲开新郎</tspan><tspan x="70" dy="18.6">、新娘的幸福殿堂。当然，我们也可以说，婚</tspan><tspan x="70" dy="18.6">姻并不需要证明，它存在于新郎、新娘的心里</tspan><tspan x="70" dy="18.6">。古人常说：心有灵犀一点通。作为证婚人，</tspan><tspan x="70" dy="18.6">我要说：是缘是情是爱，在冥冥之中把他们结</tspan><tspan x="70" dy="18.6">合在了一起，使他们从相识、相知、相爱直到</tspan><tspan x="70" dy="18.6">今后的永远相守。他们的父母创造了这对新人</tspan><tspan x="70" dy="18.6">，新人将创造他们的后代，他们的未来!</tspan></text></g>
<g id="b8-l4"><rect class="lf" x="62" y="3387" width="305" height="72" rx="6"/><text class="t"><tspan x="70" y="3409">我宣布：我们大家在这里一起见证你们婚姻的</tspan><tspan x="70" dy="18.6">开始，并在此祝你们夫妻二人互敬互爱，和睦</tspan><tspan x="70" dy="18.6">相处，互相照顾，白头偕老，美满幸福。</tspan></text></g>
</svg>
